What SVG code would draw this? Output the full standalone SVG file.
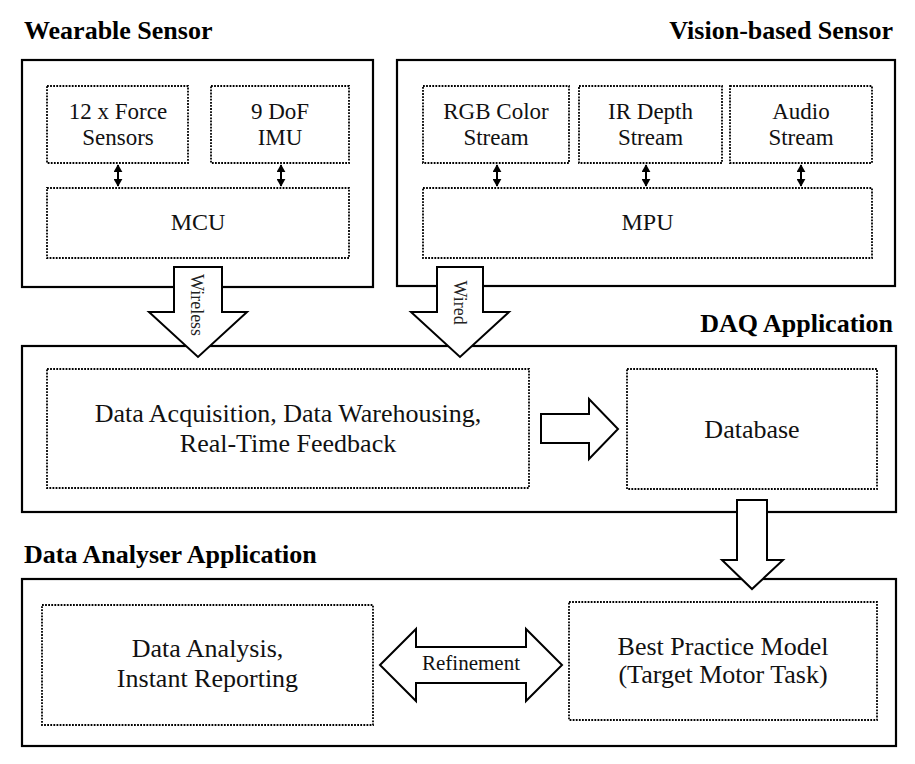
<svg xmlns="http://www.w3.org/2000/svg" width="915" height="764" viewBox="0 0 915 764">
<style>
  .outer{fill:none;stroke:#000;stroke-width:2.2}
  .dot{fill:#fff;stroke:#000;stroke-width:1.8;stroke-dasharray:1.8 1.3}
  .blk{fill:#fff;stroke:#000;stroke-width:2;stroke-linejoin:miter}
  .t{font-family:"Liberation Serif","Times New Roman",serif;fill:#111;text-anchor:middle}
  .s23{font-size:23px}
  .s24{font-size:24px}
  .s26{font-size:26px}
  .title{font-family:"Liberation Serif","Times New Roman",serif;font-weight:bold;font-size:26px;fill:#000}
  .lab{font-family:"Liberation Serif","Times New Roman",serif;font-size:18px;fill:#222;text-anchor:middle}
  .dbl{stroke:#000;stroke-width:2;fill:none;marker-start:url(#ah);marker-end:url(#ah)}
</style>
<defs>
  <marker id="ah" viewBox="0 0 10 10" refX="9" refY="5" markerWidth="8" markerHeight="9" markerUnits="userSpaceOnUse" orient="auto-start-reverse" preserveAspectRatio="none">
    <path d="M0,0 L10,5 L0,10 z" fill="#000"/>
  </marker>
</defs>

<!-- Titles -->
<text class="title" x="24" y="39">Wearable Sensor</text>
<text class="title" x="893" y="39" text-anchor="end">Vision-based Sensor</text>
<text class="title" x="893" y="332" text-anchor="end">DAQ Application</text>
<text class="title" x="24" y="563">Data Analyser Application</text>

<!-- Wearable sensor -->
<g id="wearable">
  <rect class="outer" x="22" y="60" width="351" height="227"/>
</g>
<g id="force">
  <rect class="dot" x="47" y="86" width="141" height="77"/>
  <text class="t s23" x="118" y="119">12 x Force</text>
  <text class="t s23" x="118" y="145">Sensors</text>
</g>
<g id="imu">
  <rect class="dot" x="211" y="86" width="138" height="77"/>
  <text class="t s23" x="280" y="119">9 DoF</text>
  <text class="t s23" x="280" y="145">IMU</text>
</g>
<g id="mcu">
  <rect class="dot" x="47" y="188" width="302" height="70"/>
  <text class="t s24" x="198" y="230">MCU</text>
</g>

<!-- Vision sensor -->
<g id="vision">
  <rect class="outer" x="397" y="60" width="498" height="226"/>
</g>
<g id="rgb">
  <rect class="dot" x="423" y="86" width="146" height="77"/>
  <text class="t s23" x="496" y="119">RGB Color</text>
  <text class="t s23" x="496" y="145">Stream</text>
</g>
<g id="ir">
  <rect class="dot" x="579" y="86" width="143" height="77"/>
  <text class="t s23" x="650.5" y="119">IR Depth</text>
  <text class="t s23" x="650.5" y="145">Stream</text>
</g>
<g id="audio">
  <rect class="dot" x="730" y="86" width="142" height="77"/>
  <text class="t s23" x="801" y="119">Audio</text>
  <text class="t s23" x="801" y="145">Stream</text>
</g>
<g id="mpu">
  <rect class="dot" x="423" y="188" width="449" height="70"/>
  <text class="t s24" x="647.5" y="230">MPU</text>
</g>

<!-- DAQ -->
<g id="daq">
  <rect class="outer" x="22" y="346" width="874" height="166"/>
</g>
<g id="acq">
  <rect class="dot" x="47" y="369" width="482" height="119"/>
  <text class="t s26" x="288" y="422">Data Acquisition, Data Warehousing,</text>
  <text class="t s26" x="288" y="452">Real-Time Feedback</text>
</g>
<g id="database">
  <rect class="dot" x="627" y="369" width="250" height="120"/>
  <text class="t s26" x="752" y="438">Database</text>
</g>

<!-- Analyser -->
<g id="analyser">
  <rect class="outer" x="22" y="579" width="874" height="167"/>
</g>
<g id="analysis">
  <rect class="dot" x="42" y="605" width="331" height="120"/>
  <text class="t s26" x="207.5" y="657">Data Analysis,</text>
  <text class="t s26" x="207.5" y="687">Instant Reporting</text>
</g>
<g id="model">
  <rect class="dot" x="569" y="602" width="308" height="118"/>
  <text class="t s26" x="723" y="655">Best Practice Model</text>
  <text class="t s26" x="723" y="683">(Target Motor Task)</text>
</g>

<!-- Connectors -->
<g id="connectors">
  <line class="dbl" x1="118" y1="165" x2="118" y2="186"/>
  <line class="dbl" x1="281" y1="165" x2="281" y2="186"/>
  <line class="dbl" x1="497" y1="165" x2="497" y2="186"/>
  <line class="dbl" x1="646" y1="165" x2="646" y2="186"/>
  <line class="dbl" x1="801" y1="165" x2="801" y2="186"/>

  <polygon class="blk" points="174,267 222,267 222,312 247,312 198,357 149,312 174,312"/>
  <text class="lab" transform="translate(191,305) rotate(90)">Wireless</text>

  <polygon class="blk" points="437,267 483,267 483,312 509,312 460,357 411,312 437,312"/>
  <text class="lab" transform="translate(454,302.5) rotate(90)">Wired</text>

  <polygon class="blk" points="541,414 589,414 589,399 618,429 589,459 589,443 541,443"/>

  <polygon class="blk" points="737,500 767,500 767,560 783,560 752,589 722,560 737,560"/>

  <polygon class="blk" points="380,665 416,629 416,647 526,647 526,629 562,665 526,701 526,683 416,683 416,701"/>
  <text class="t" x="471" y="670" font-size="21">Refinement</text>
</g>
</svg>
